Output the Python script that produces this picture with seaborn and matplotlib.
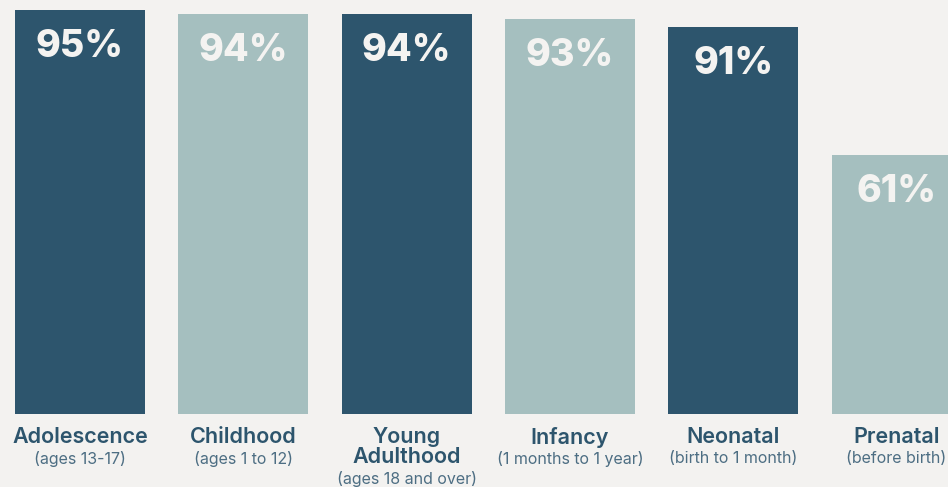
import matplotlib
matplotlib.use("Agg")
import matplotlib.pyplot as plt
import seaborn as sns
import pandas as pd

# Life stages, their age ranges and the share reported for each
stages = ["Adolescence", "Childhood", "Young\nAdulthood", "Infancy", "Neonatal", "Prenatal"]
age_ranges = ["(ages 13-17)", "(ages 1 to 12)", "(ages 18 and over)",
              "(1 months to 1 year)", "(birth to 1 month)", "(before birth)"]
percent = [95, 94, 94, 93, 91, 61]

DARK = "#2d556d"
LIGHT = "#a5bfbf"
BG = "#f3f2f0"
LABEL_WHITE = "#f4f3f1"
SUB_COLOR = "#4d6e83"

df = pd.DataFrame({"stage": stages, "percent": percent})
bar_colors = [DARK if i % 2 == 0 else LIGHT for i in range(len(stages))]

sns.set_theme(style="white")
plt.rcParams["font.family"] = ["Inter", "DejaVu Sans"]

W, H = 948, 487
fig = plt.figure(figsize=(W / 100, H / 100), dpi=100, facecolor=BG)
base_px = 414
top_px = 10
left_px = 15
ax = fig.add_axes([left_px / W, (H - base_px) / H, (W - left_px) / W, (base_px - top_px) / H])
ax.set_facecolor(BG)

bar_w = 0.796
sns.barplot(data=df, x="stage", y="percent", hue="stage", palette=bar_colors,
            width=bar_w, saturation=1, legend=False, ax=ax, linewidth=0)

ax.set_xlim(-bar_w / 2, -bar_w / 2 + (W - left_px) / 163.3)
ax.set_ylim(0, max(percent))
for s in ax.spines.values():
    s.set_visible(False)
ax.set_xticks([])
ax.set_yticks([])
ax.set_xlabel("")
ax.set_ylabel("")

# Value labels inside the top of each bar
for i, v in enumerate(percent):
    ax.annotate(f"{v}%", xy=(i, v), xytext=(0, -19), textcoords="offset pixels",
                ha="center", va="top", fontsize=27, fontweight="heavy",
                color=LABEL_WHITE)

# Category names with age ranges beneath
for i, (name, rng) in enumerate(zip(stages, age_ranges)):
    n_lines = name.count("\n") + 1
    ax.annotate(name, xy=(i, 0), xycoords=("data", "axes fraction"),
                xytext=(0, -13), textcoords="offset pixels",
                ha="center", va="top", fontsize=15.5, fontweight="semibold",
                color=DARK, linespacing=1.0, annotation_clip=False)
    ax.annotate(rng, xy=(i, 0), xycoords=("data", "axes fraction"),
                xytext=(0, -37 - 20 * (n_lines - 1)), textcoords="offset pixels",
                ha="center", va="top", fontsize=11.5, fontweight="normal",
                color=SUB_COLOR, annotation_clip=False)

fig.savefig("out.png", dpi=100, facecolor=BG)
